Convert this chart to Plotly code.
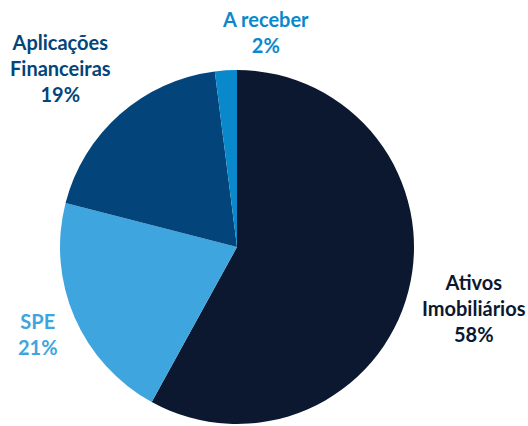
import plotly.graph_objects as go

labels = ["Ativos Imobiliários", "SPE", "Aplicações Financeiras", "A receber"]
values = [58, 21, 19, 2]
colors = ["#0c1830", "#3ea5de", "#03457a", "#0a88cc"]
label_text = ["Ativos<br>Imobiliários", "SPE", "Aplicações<br>Financeiras", "A receber"]

W, H = 528, 426
# label block centre positions in pixels
label_pos = [(474, 308), (38, 334), (60, 68), (265, 32)]
cx, cy, r = 237, 247, 177

fig = go.Figure(go.Pie(
    labels=labels, values=values, sort=False, direction="clockwise", rotation=0,
    marker=dict(colors=colors, line=dict(width=0)),
    textinfo="none", hoverinfo="label+percent", showlegend=False,
    domain=dict(x=[(cx - r) / W, (cx + r) / W], y=[(H - (cy + r)) / H, (H - (cy - r)) / H]),
))

for txt, v, c, (px, py) in zip(label_text, values, colors, label_pos):
    fig.add_annotation(
        x=px / W, y=1 - py / H, xref="paper", yref="paper",
        text=f"<b>{txt}<br>{v}%</b>", showarrow=False, align="center",
        xanchor="center", yanchor="middle",
        font=dict(family="Lato", size=20, color=c),
    )

fig.update_layout(width=W, height=H, margin=dict(l=0, r=0, t=0, b=0),
                  paper_bgcolor="white", plot_bgcolor="white")
fig.write_html("out.html", config={"displayModeBar": False},
               post_script="document.body.style.margin='0';document.body.style.overflow='hidden';")
